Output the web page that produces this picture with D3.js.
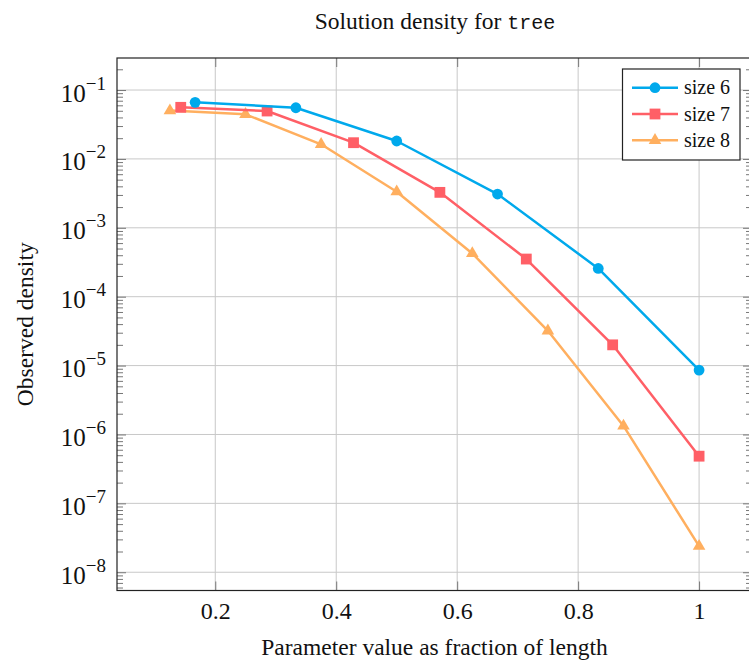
<!DOCTYPE html>
<html>
<head>
<meta charset="utf-8">
<script src="https://cdn.jsdelivr.net/npm/d3@7"></script>
<style>
  body { margin: 0; background: #fff; }
  text { font-family: "Liberation Serif", "Times New Roman", serif; fill: #111; }
</style>
</head>
<body>
<svg id="chart" width="749" height="662"></svg>
<script>
// data
const seriesNames = ['size 6', 'size 7', 'size 8'];
const seriesColors = ['#00a9ec', '#ff5f66', '#ffaf5f'];
const seriesMarks = ['circle', 'square', 'triangle'];

const x6 = [0.1667, 0.3333, 0.5, 0.6667, 0.8333, 1];
const y6 = [0.0663, 0.0553, 0.0182, 0.00309, 2.57e-4, 8.6e-6];

const x7 = [0.1429, 0.2857, 0.4286, 0.5714, 0.7143, 0.8571, 1];
const y7 = [0.0561, 0.0496, 0.0172, 0.00327, 3.52e-4, 2.0e-5, 4.84e-7];

const x8 = [0.125, 0.25, 0.375, 0.5, 0.625, 0.75, 0.875, 1];
const y8 = [0.0503, 0.0444, 0.0163, 0.00334, 4.25e-4, 3.2e-5, 1.33e-6, 2.39e-8];

const xTicks = [0.2, 0.4, 0.6, 0.8, 1];
const xTickLabels = ['0.2', '0.4', '0.6', '0.8', '1'];
const yTicks = [1e-1, 1e-2, 1e-3, 1e-4, 1e-5, 1e-6, 1e-7, 1e-8];
const yTickExps = ['−1', '−2', '−3', '−4', '−5', '−6', '−7', '−8'];

const svg = d3.select('#chart');

const plotLeft = 117, plotRight = 752, plotTop = 58, plotBottom = 590.5;

const x = d3.scaleLinear().domain([0.0375, 1.0875]).range([plotLeft, plotRight]);
const y = d3.scaleLog().domain([Math.pow(10, -0.535), Math.pow(10, -8.265)]).range([plotTop, plotBottom]);

// minor tick positions 2..9 per decade inside the domain
let minorTicks = [];
for (let e = -9; e <= 0; e++) {
  for (let k = 2; k <= 9; k++) {
    const v = k * Math.pow(10, e);
    if (y(v) > plotTop && y(v) < plotBottom) minorTicks.push(v);
  }
}

// grid
const grid = svg.append('g').attr('class', 'grid');
grid.selectAll('.gx').data(xTicks).enter().append('line')
  .attr('x1', d => x(d)).attr('x2', d => x(d))
  .attr('y1', plotTop).attr('y2', plotBottom)
  .attr('stroke', '#c8c8c8').attr('stroke-width', 1);
grid.selectAll('.gy').data(yTicks).enter().append('line')
  .attr('y1', d => y(d)).attr('y2', d => y(d))
  .attr('x1', plotLeft).attr('x2', plotRight)
  .attr('stroke', '#c8c8c8').attr('stroke-width', 1);

// ticks (inward, on all four sides)
const tickColor = '#777';
const axisBottom = d3.axisBottom(x).tickValues(xTicks).tickSize(-9).tickPadding(11)
  .tickFormat((d, i) => xTickLabels[i]);
const gxb = svg.append('g').attr('transform', `translate(0,${plotBottom})`).call(axisBottom);
gxb.select('.domain').remove();
gxb.selectAll('.tick line').attr('stroke', tickColor);
gxb.selectAll('.tick text')
  .attr('font-family', '"Liberation Serif", serif')
  .attr('font-size', 24).attr('fill', '#111');

const gxt = svg.append('g').attr('transform', `translate(0,${plotTop})`)
  .call(d3.axisTop(x).tickValues(xTicks).tickSize(-9).tickFormat(''));
gxt.select('.domain').remove();
gxt.selectAll('.tick line').attr('stroke', tickColor);

const gyl = svg.append('g').attr('transform', `translate(${plotLeft},0)`)
  .call(d3.axisLeft(y).tickValues(yTicks).tickSize(-9).tickFormat(''));
gyl.select('.domain').remove();
gyl.selectAll('.tick line').attr('stroke', tickColor);

const gylm = svg.append('g').attr('transform', `translate(${plotLeft},0)`)
  .call(d3.axisLeft(y).tickValues(minorTicks).tickSize(-6).tickFormat(''));
gylm.select('.domain').remove();
gylm.selectAll('.tick line').attr('stroke', tickColor);

const gyr = svg.append('g').attr('transform', `translate(${plotRight},0)`)
  .call(d3.axisRight(y).tickValues(yTicks).tickSize(-9).tickFormat(''));
gyr.select('.domain').remove();
gyr.selectAll('.tick line').attr('stroke', tickColor);

const gyrm = svg.append('g').attr('transform', `translate(${plotRight},0)`)
  .call(d3.axisRight(y).tickValues(minorTicks).tickSize(-6).tickFormat(''));
gyrm.select('.domain').remove();
gyrm.selectAll('.tick line').attr('stroke', tickColor);

// y tick labels 10^n
const ylab = svg.append('g').selectAll('text').data(yTicks).enter().append('text')
  .attr('x', 106)
  .attr('y', d => y(d) + 11.5)
  .attr('text-anchor', 'end')
  .attr('font-size', 25);
ylab.append('tspan').text('10');
ylab.append('tspan').attr('dy', -12).attr('font-size', 19).text((d, i) => yTickExps[i]);

// frame
svg.append('rect')
  .attr('x', plotLeft).attr('y', plotTop)
  .attr('width', plotRight - plotLeft).attr('height', plotBottom - plotTop)
  .attr('fill', 'none').attr('stroke', '#222').attr('stroke-width', 1.2);

// series
const series = [
  { name: seriesNames[0], xs: x6, ys: y6, color: seriesColors[0], mark: seriesMarks[0] },
  { name: seriesNames[1], xs: x7, ys: y7, color: seriesColors[1], mark: seriesMarks[1] },
  { name: seriesNames[2], xs: x8, ys: y8, color: seriesColors[2], mark: seriesMarks[2] },
];

const line = d3.line().x(d => x(d[0])).y(d => y(d[1]));

const drawMark = (g, mark, color) => {
  if (mark === 'circle') {
    g.append('circle').attr('r', 5.4).attr('fill', color);
  } else if (mark === 'square') {
    g.append('rect').attr('x', -5.4).attr('y', -5.4).attr('width', 10.8).attr('height', 10.8).attr('fill', color);
  } else {
    g.append('path').attr('d', 'M0,-7.2L6.3,3.6L-6.3,3.6Z').attr('fill', color);
  }
};

// draw in reverse so size 6 sits on top
series.slice().reverse().forEach(s => {
  const pts = s.xs.map((v, i) => [v, s.ys[i]]);
  svg.append('path')
    .datum(pts)
    .attr('d', line)
    .attr('fill', 'none')
    .attr('stroke', s.color)
    .attr('stroke-width', 2.5)
    .attr('stroke-linejoin', 'round');
  pts.forEach(p => {
    const g = svg.append('g').attr('transform', `translate(${x(p[0])},${y(p[1])})`);
    drawMark(g, s.mark, s.color);
  });
});

// legend
const legend = svg.append('g');
legend.append('rect')
  .attr('x', 622.5).attr('y', 69).attr('width', 117.5).attr('height', 91)
  .attr('fill', '#fff').attr('stroke', '#222').attr('stroke-width', 1.2);
series.forEach((s, i) => {
  const cy = 87.7 + i * 26.3;
  legend.append('line')
    .attr('x1', 632).attr('x2', 678).attr('y1', cy).attr('y2', cy)
    .attr('stroke', s.color).attr('stroke-width', 2.5);
  const g = legend.append('g').attr('transform', `translate(655,${cy})`);
  drawMark(g, s.mark, s.color);
  legend.append('text')
    .attr('x', 684).attr('y', cy + 6.5)
    .attr('font-size', 20)
    .text(s.name);
});

// title
const title = svg.append('text')
  .attr('x', 435).attr('y', 29)
  .attr('text-anchor', 'middle')
  .attr('font-size', 23.5);
title.append('tspan').text('Solution density for ');
title.append('tspan').attr('font-family', '"Liberation Mono", "DejaVu Sans Mono", monospace')
  .attr('font-size', 20).text('tree');

// axis labels
svg.append('text')
  .attr('x', 434.5).attr('y', 655)
  .attr('text-anchor', 'middle')
  .attr('font-size', 23.5)
  .text('Parameter value as fraction of length');

svg.append('text')
  .attr('transform', `translate(33,${(plotTop + plotBottom) / 2}) rotate(-90)`)
  .attr('text-anchor', 'middle')
  .attr('font-size', 23.5)
  .text('Observed density');
</script>
</body>
</html>
